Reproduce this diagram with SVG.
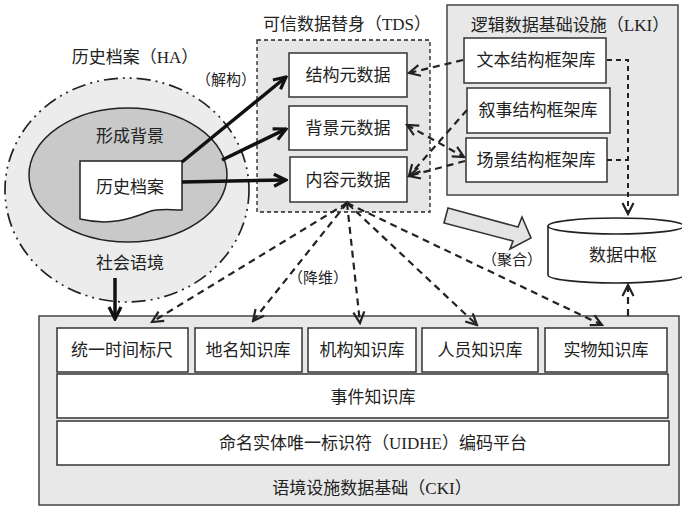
<svg xmlns="http://www.w3.org/2000/svg" width="682" height="511" viewBox="0 0 682 511">
<defs>
<style>
.t{font-family:'Liberation Serif','Noto Sans CJK SC',sans-serif;font-size:17px;fill:#222;text-anchor:middle;dominant-baseline:central}
.s{font-size:15px}
.box{fill:#fff;stroke:#333;stroke-width:1.5}
.panel{fill:#e8e8e8;stroke:#444;stroke-width:1.5}
.thick{fill:none;stroke:#111;stroke-width:3.5}
.dash{fill:none;stroke:#222;stroke-width:2.2;stroke-dasharray:7 5}
.dash2{fill:none;stroke:#222;stroke-width:2;stroke-dasharray:5 4}
</style>
<marker id="ah" viewBox="0 0 16 16" refX="14" refY="8" markerWidth="16" markerHeight="16" orient="auto" markerUnits="userSpaceOnUse">
<path d="M2,2 L14,8 L2,14" fill="none" stroke="#111" stroke-width="3.2" stroke-dasharray="none"/>
</marker>
<marker id="dh" viewBox="0 0 14 14" refX="12" refY="7" markerWidth="14" markerHeight="14" orient="auto" markerUnits="userSpaceOnUse">
<path d="M1,1.5 L12,7 L1,12.5" fill="none" stroke="#222" stroke-width="2.2" stroke-dasharray="none"/>
</marker>
<marker id="dhs" viewBox="0 0 14 14" refX="2" refY="7" markerWidth="14" markerHeight="14" orient="auto" markerUnits="userSpaceOnUse">
<path d="M13,1.5 L2,7 L13,12.5" fill="none" stroke="#222" stroke-width="2.2" stroke-dasharray="none"/>
</marker>
</defs>
<rect width="682" height="511" fill="#fff"/>

<g id="HA">
<text class="t" x="135" y="57">历史档案（HA）</text>
<ellipse cx="127" cy="190" rx="122" ry="112" fill="#ececec" stroke="#222" stroke-width="1.7" stroke-dasharray="14 5 2 5 2 5"/>
<ellipse cx="128" cy="175" rx="99" ry="67" fill="#c9c9c9" stroke="#222" stroke-width="1.5"/>
<text class="t" x="130" y="136">形成背景</text>
<text class="t" x="130" y="263">社会语境</text>
</g>
<g id="doc">
<path d="M80,161 H182 V210 C168,210 160,208 148,212 C130,219 110,226 80,219 Z" fill="#fff" stroke="#222" stroke-width="1.5"/>
<text class="t" x="130" y="187">历史档案</text>
</g>

<g id="TDS">
<text class="t" x="347" y="24">可信数据替身（TDS）</text>
<rect x="257" y="40" width="173" height="172" fill="#e6e6e6" stroke="#222" stroke-width="1.3" stroke-dasharray="4 3"/>
</g>
<g id="struct-meta"><rect class="box" x="289" y="53" width="118" height="44"/><text class="t" x="348" y="75">结构元数据</text></g>
<g id="bg-meta"><rect class="box" x="289" y="106" width="118" height="44"/><text class="t" x="348" y="128">背景元数据</text></g>
<g id="content-meta"><rect class="box" x="290" y="157" width="117" height="45"/><text class="t" x="348" y="180">内容元数据</text></g>

<g id="LKI">
<rect class="panel" x="447" y="5" width="231" height="190"/>
<text class="t" x="570" y="25">逻辑数据基础设施（LKI）</text>
</g>
<g id="text-frame"><rect class="box" x="464" y="38" width="142" height="45"/><text class="t" x="536" y="60">文本结构框架库</text></g>
<g id="narr-frame"><rect class="box" x="467" y="88" width="143" height="45"/><text class="t" x="538" y="110">叙事结构框架库</text></g>
<g id="scene-frame"><rect class="box" x="466" y="138" width="141" height="44"/><text class="t" x="536" y="160">场景结构框架库</text></g>

<g id="hub">
<path d="M548,226 V275 A68,8 0 0 0 684,275 V226" fill="#fff" stroke="#222" stroke-width="1.6"/>
<ellipse cx="616" cy="226" rx="68" ry="8" fill="#fff" stroke="#222" stroke-width="1.6"/>
<text class="t" x="623" y="255">数据中枢</text>
</g>

<g id="CKI">
<rect class="panel" x="39" y="316" width="640" height="189"/>
<text class="t" x="372" y="488">语境设施数据基础（CKI）</text>
</g>
<g id="time"><rect class="box" x="57" y="328" width="131" height="44"/><text class="t" x="122" y="350">统一时间标尺</text></g>
<g id="place"><rect class="box" x="195" y="328" width="107" height="44"/><text class="t" x="248" y="350">地名知识库</text></g>
<g id="org"><rect class="box" x="308" y="328" width="108" height="44"/><text class="t" x="362" y="350">机构知识库</text></g>
<g id="person"><rect class="box" x="422" y="328" width="116" height="44"/><text class="t" x="480" y="350">人员知识库</text></g>
<g id="object"><rect class="box" x="545" y="328" width="122" height="44"/><text class="t" x="606" y="350">实物知识库</text></g>
<g id="event"><rect class="box" x="57" y="374" width="611" height="44"/><text class="t" x="373" y="397">事件知识库</text></g>
<g id="uidhe"><rect class="box" x="57" y="421" width="612" height="44"/><text class="t" x="373" y="443">命名实体唯一标识符（UIDHE）编码平台</text></g>

<g id="connectors">
<line class="thick" x1="182" y1="162" x2="286" y2="77" marker-end="url(#ah)"/>
<line class="thick" x1="222" y1="160" x2="286" y2="129" marker-end="url(#ah)"/>
<line class="thick" x1="182" y1="182" x2="286" y2="180" marker-end="url(#ah)"/>
<line class="thick" x1="115" y1="278" x2="115" y2="319" marker-end="url(#ah)"/>
<text class="t s" x="226" y="80">（解构）</text>

<line class="dash" x1="463" y1="60" x2="409" y2="73" marker-end="url(#dh)"/>
<line class="dash" x1="467" y1="110" x2="409" y2="176" marker-end="url(#dh)"/>
<line class="dash" x1="465" y1="161" x2="409" y2="176" marker-end="url(#dh)"/>
<line class="dash" x1="407" y1="125" x2="464" y2="157" marker-start="url(#dhs)" marker-end="url(#dh)"/>

<path class="dash2" d="M607,60 H628 V214" marker-end="url(#dh)"/>
<path class="dash2" d="M607,160 H628"/>
<line class="dash" x1="628" y1="316" x2="628" y2="285" marker-end="url(#dh)"/>

<line class="dash" x1="347" y1="203" x2="152" y2="322" marker-end="url(#dh)"/>
<line class="dash" x1="347" y1="203" x2="253" y2="321" marker-end="url(#dh)"/>
<line class="dash" x1="347" y1="203" x2="360" y2="323" marker-end="url(#dh)"/>
<line class="dash" x1="347" y1="203" x2="477" y2="325" marker-end="url(#dh)"/>
<line class="dash" x1="347" y1="203" x2="602" y2="325" marker-end="url(#dh)"/>
<path d="M341,209 L347,202 L353,209" fill="none" stroke="#222" stroke-width="1.8"/>
<text class="t s" x="318" y="278">（降维）</text>

<polygon points="448,208 518,227 522,217 531,238 510,249 513,241 444,223" fill="#e4e4e4" stroke="#333" stroke-width="1.6" stroke-linejoin="miter"/>
<text class="t s" x="512" y="260">（聚合）</text>
</g>
</svg>
